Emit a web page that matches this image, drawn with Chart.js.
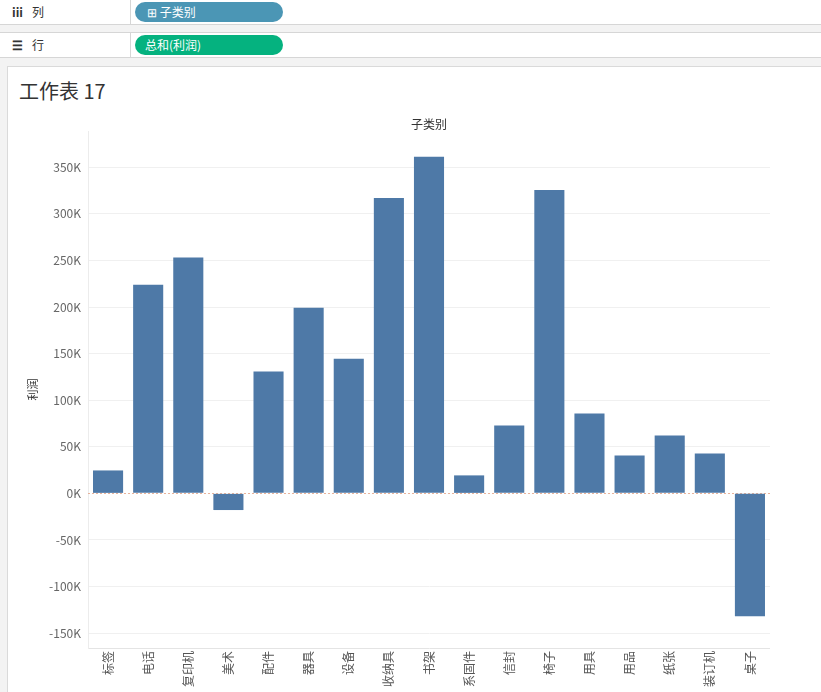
<!DOCTYPE html>
<html>
<head>
<meta charset="utf-8">
<script src="https://cdn.jsdelivr.net/npm/chart.js@4/dist/chart.umd.min.js"></script>
<style>
  body { margin: 0; width: 821px; height: 692px; overflow: hidden; background: #f3f3f3;
         font-family: 'Noto Sans CJK SC', 'Open Sans', sans-serif; color: #333; }
  .shelf { position: absolute; left: 0; width: 821px; height: 24px; background: #fff;
           border-bottom: 1px solid #d6d6d6; }
  .shelf .name { position: absolute; left: 0; top: 0; width: 130px; height: 24px;
                 border-right: 1px solid #d6d6d6; font-size: 12px; line-height: 23px; }
  .shelf .name b { display: inline-block; width: 20px; margin-left: 12px; }
  .pill { position: absolute; left: 135px; top: 2px; width: 148px; height: 20px; border-radius: 10px;
          color: #fff; font-size: 12px; line-height: 20px; }
  .card { position: absolute; left: 7px; top: 66px; width: 814px; height: 626px; background: #fff;
          border-left: 1px solid #dadada; border-top: 1px solid #dadada; }
  .card h1 { position: absolute; left: 11px; top: 9px; margin: 0; font-size: 20px; font-weight: normal; color: #333; }
  #wrap { position: absolute; left: 8px; top: 112px; width: 762px; height: 580px; }
</style>
</head>
<body>
<div class="shelf" style="top:0">
  <div class="name"><b>iii</b>列</div>
  <div class="pill" style="background:#4b96b5"><span style="margin-left:12px">⊞ 子类别</span></div>
</div>
<div class="shelf" style="top:32px; border-top:1px solid #d6d6d6">
  <div class="name"><b>☰</b>行</div>
  <div class="pill" style="background:#05b27f"><span style="margin-left:10px">总和(利润)</span></div>
</div>
<div class="card"><h1>工作表 17</h1></div>
<div id="wrap"><canvas id="chart"></canvas></div>
<script>
// sub-categories, pinyin order as Tableau sorts them
var subCategories = ['标签', '电话', '复印机', '美术', '配件', '器具', '设备', '收纳具', '书架',
                     '系固件', '信封', '椅子', '用具', '用品', '纸张', '装订机', '桌子'];
// SUM(利润) per sub-category
var profit = [24600, 223900, 253200, -17900, 130700, 199300, 144600, 317100, 361400,
              19300, 72900, 325700, 85700, 40700, 62100, 42900, -131800];
var yTicks = [-150000, -100000, -50000, 0, 50000, 100000, 150000, 200000, 250000, 300000, 350000];
var axisMin = -166000,
    axisMax = 389000;

var fontFamily = "'Noto Sans CJK SC', 'Open Sans', sans-serif";

// dotted zero line like tableau draws it
var zeroLine = {
  id: 'zeroLine',
  beforeDatasetsDraw: function (chart) {
    var ctx = chart.ctx,
        area = chart.chartArea,
        y = Math.round(chart.scales.y.getPixelForValue(0)) + 0.5;
    ctx.save();
    ctx.strokeStyle = 'rgba(226,160,130,0.8)';
    ctx.lineWidth = 1;
    ctx.setLineDash([2, 2]);
    ctx.beginPath();
    ctx.moveTo(area.left, y);
    ctx.lineTo(area.right, y);
    ctx.stroke();
    ctx.restore();
  }
};

new Chart(document.getElementById('chart'), {
  type: 'bar',
  data: {
    labels: subCategories,
    datasets: [{
      label: '利润',
      data: profit,
      backgroundColor: '#4e79a7',
      barPercentage: 0.75,
      categoryPercentage: 1
    }]
  },
  options: {
    responsive: true,
    maintainAspectRatio: false,
    animation: false,
    layout: { padding: 0 },
    plugins: {
      legend: { display: false },
      tooltip: { enabled: false }
    },
    scales: {
      // top header, only carries the field name
      header: {
        type: 'category',
        position: 'top',
        grid: { display: false, drawTicks: false },
        border: { display: false },
        ticks: { display: false },
        title: {
          display: true,
          text: '子类别',
          color: '#333',
          font: { family: fontFamily, size: 12 },
          padding: { top: 5, bottom: 0 }
        },
        afterFit: function (scale) { scale.height = 19; }
      },
      x: {
        grid: { display: false, drawTicks: false },
        border: { display: true, color: '#e4e4e4' },
        ticks: {
          autoSkip: false,
          minRotation: 90,
          maxRotation: 90,
          padding: 3,
          color: '#555',
          font: { family: fontFamily, size: 12 }
        },
        afterFit: function (scale) { scale.height = 44; }
      },
      y: {
        min: axisMin,
        max: axisMax,
        grid: {
          drawTicks: false,
          color: function (c) { return c.tick && c.tick.value === 0 ? 'rgba(0,0,0,0)' : '#f0f0f0'; }
        },
        border: { display: true, color: '#ececec' },
        ticks: {
          padding: 7,
          color: '#666',
          font: { family: fontFamily, size: 12 },
          callback: function (v) { return (v / 1000) + 'K'; }
        },
        afterBuildTicks: function (scale) {
          scale.ticks = yTicks.map(function (v) { return { value: v }; });
        },
        title: {
          display: true,
          text: '利润',
          color: '#333',
          font: { family: fontFamily, size: 11 },
          padding: { top: 18, bottom: 0 }
        },
        afterFit: function (scale) { scale.width = 80; }
      }
    }
  },
  plugins: [zeroLine]
});
</script>
</body>
</html>
